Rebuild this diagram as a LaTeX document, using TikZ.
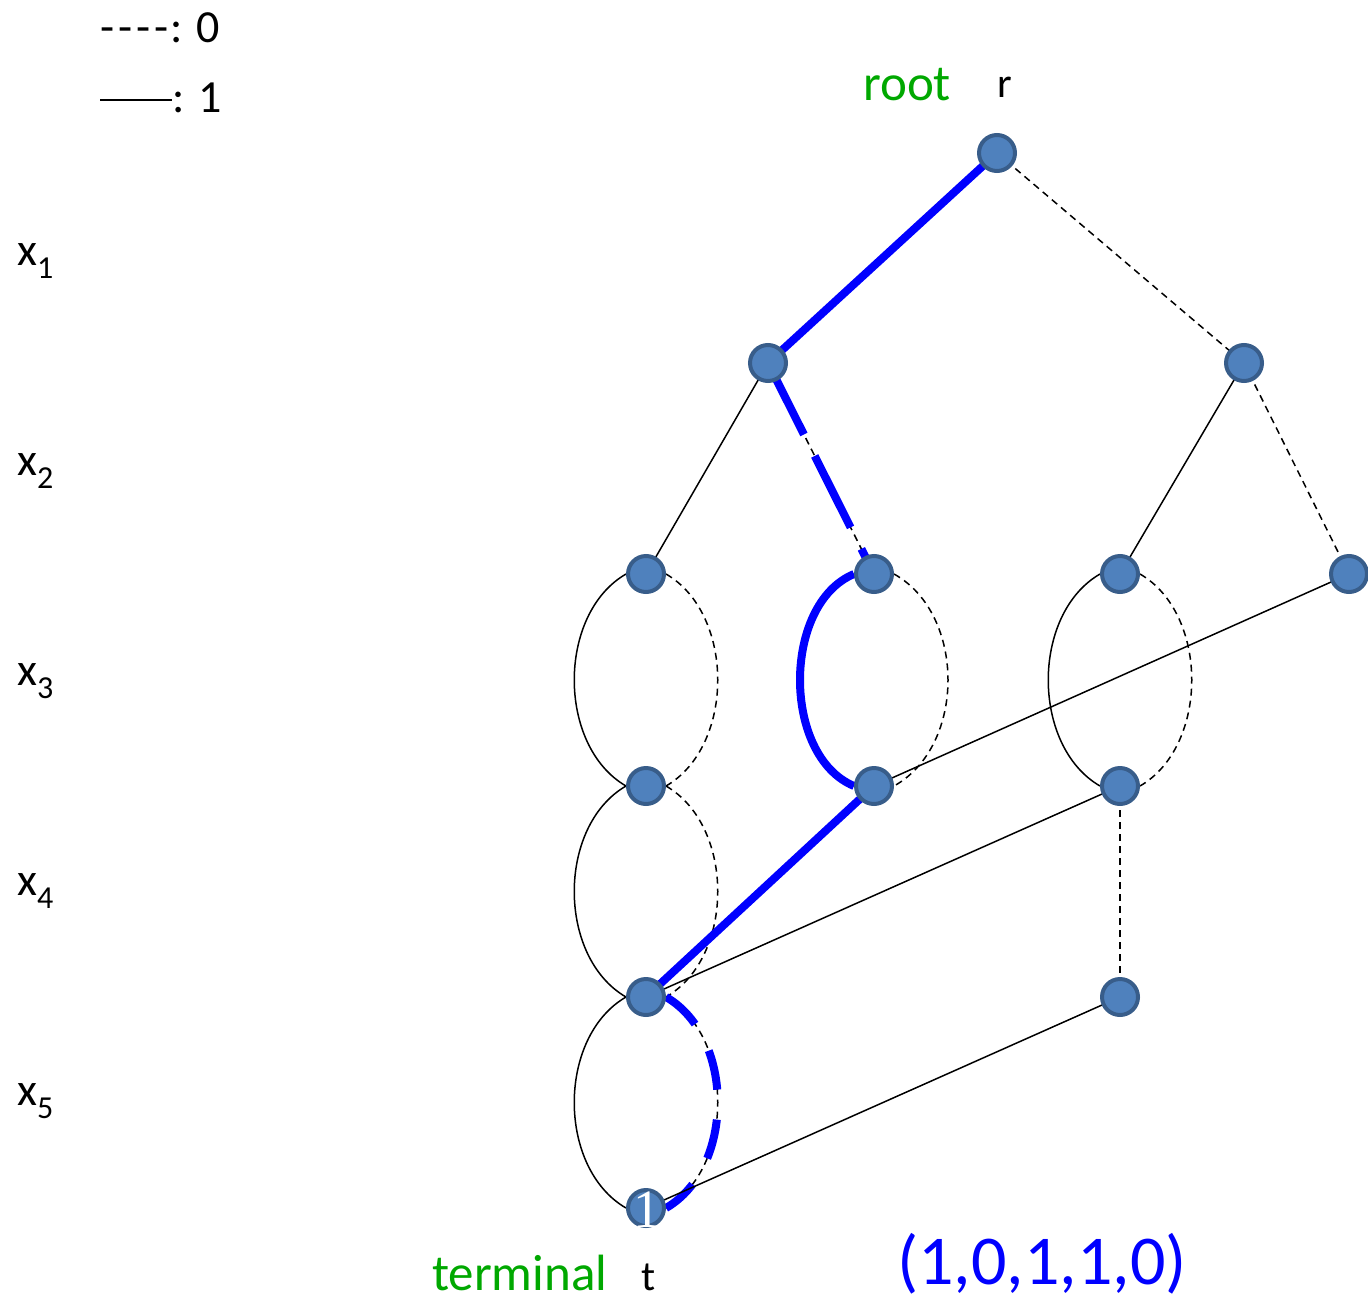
\documentclass[tikz,border=0pt]{standalone}
\usepackage{fontspec}
\setmainfont{Carlito}
\newfontfamily\serifone{Liberation Serif}
\usetikzlibrary{backgrounds}
\definecolor{nodefill}{RGB}{79,129,189}
\definecolor{nodeborder}{RGB}{56,93,138}
\definecolor{lblgreen}{RGB}{0,168,0}
\definecolor{hlblue}{RGB}{0,0,255}
\newcommand{\hy}{\mbox{-}\kern4pt}
\begin{document}
\begin{tikzpicture}[x=1pt,y=-1pt,
  bddnode/.style={circle, fill=nodefill, draw=nodeborder, line width=4pt, minimum size=36pt, inner sep=0pt},
  zeroedge/.style={draw=black, line width=1.5pt, dash pattern=on 7pt off 5pt},
  oneedge/.style={draw=black, line width=1.5pt},
  hledge/.style={draw=hlblue, line width=8pt},
  hldash/.style={draw=hlblue, line width=8pt, dash pattern=on 80pt off 24pt},
  hldashs/.style={draw=hlblue, line width=8pt, dash pattern=on 40pt off 30pt},
  lbl/.style={anchor=base west, inner sep=0pt, font=\fontsize{46}{55}\selectfont},
  biglbl/.style={lbl, font=\fontsize{51}{60}\selectfont}]
\useasboundingbox (0,0) rectangle (1368,1301);

% nodes
\node[bddnode] (r) at (997,153) {};
\node[bddnode] (a) at (768,363) {};
\node[bddnode] (b) at (1244,363) {};
\node[bddnode] (c1) at (646,574) {};
\node[bddnode] (c2) at (874,574) {};
\node[bddnode] (c3) at (1120,574) {};
\node[bddnode] (c4) at (1349,574) {};
\node[bddnode] (d1) at (646,786) {};
\node[bddnode] (d2) at (874,786) {};
\node[bddnode] (d3) at (1120,786) {};
\node[bddnode] (e1) at (646,997) {};
\node[bddnode] (e3) at (1120,997) {};
\node[bddnode] (t) at (646,1208) {};
\node[text=white, font=\serifone\fontsize{54}{54}\selectfont, inner sep=0pt, anchor=base] (tone) at (647,1227) {1};

\begin{scope}[on background layer]
% level 1
\draw[hledge] (r.center) -- (a.center);
\draw[zeroedge] (r.center) -- (b.center);
% level 2
\draw[oneedge] (a.center) -- (c1.center);
\draw[zeroedge] (a.center) -- (c2.center);
\draw[hldash] (a.center) -- (c2.center);
\draw[oneedge] (b.center) -- (c3.center);
\draw[zeroedge] (b.center) -- (c4.center);
% level 3
\draw[oneedge] (c1.west) .. controls +(-69,40) and +(-69,-40) .. (d1.west);
\draw[zeroedge] (c1.east) .. controls +(69,40) and +(69,-40) .. (d1.east);
\draw[hledge] (c2.west) .. controls +(-72,30) and +(-72,-30) .. (d2.west);
\draw[zeroedge] (c2.east) .. controls +(72,40) and +(72,-40) .. (d2.east);
\draw[oneedge] (c3.west) .. controls +(-69,40) and +(-69,-40) .. (d3.west);
\draw[zeroedge] (c3.east) .. controls +(69,40) and +(69,-40) .. (d3.east);
\draw[oneedge] (c4.center) -- (d2.center);
% level 4
\draw[oneedge] (d1.west) .. controls +(-69,40) and +(-69,-40) .. (e1.west);
\draw[zeroedge] (d1.east) .. controls +(69,40) and +(69,-40) .. (e1.east);
\draw[hledge] (d2.center) -- (e1.center);
\draw[oneedge] (d3.center) -- (e1.center);
\draw[zeroedge] (d3.center) -- (e3.center);
% level 5
\draw[oneedge] (e1.west) .. controls +(-69,40) and +(-69,-40) .. (t.west);
\draw[zeroedge] (e1.east) .. controls +(69,40) and +(69,-40) .. (t.east);
\draw[hldashs] (e1.east) .. controls +(69,40) and +(69,-40) .. (t.east);
\draw[oneedge] (e3.center) -- (t.center);
\end{scope}

% legend
\node[lbl] (leg0) at (100,42) {\hy\hy\hy\mbox{-}\kern2pt: 0};
\node[lbl] (leg1) at (100,112) {\rule[0.24em]{72pt}{1.8pt}: 1};

% variable labels
\node[lbl] (x1) at (17,265) {x\raisebox{-13pt}{\fontsize{32}{32}\selectfont 1}};
\node[lbl] (x2) at (17,475) {x\raisebox{-13pt}{\fontsize{32}{32}\selectfont 2}};
\node[lbl] (x3) at (17,685) {x\raisebox{-13pt}{\fontsize{32}{32}\selectfont 3}};
\node[lbl] (x4) at (17,895) {x\raisebox{-13pt}{\fontsize{32}{32}\selectfont 4}};
\node[lbl] (x5) at (17,1105) {x\raisebox{-13pt}{\fontsize{32}{32}\selectfont 5}};

% root / terminal
\node[biglbl, text=lblgreen] (rootlbl) at (863,100) {root};
\node[lbl, font=\fontsize{42}{48}\selectfont] (rlbl) at (997,97) {r};
\node[biglbl, text=lblgreen] (termlbl) at (432,1290) {terminal};
\node[lbl, font=\fontsize{42}{48}\selectfont] (tlbl) at (641,1290) {t};
\node[lbl, text=hlblue, font=\fontsize{70}{84}\selectfont] (path) at (897,1284) {(1,0,1,1,0)};
\end{tikzpicture}
\end{document}
